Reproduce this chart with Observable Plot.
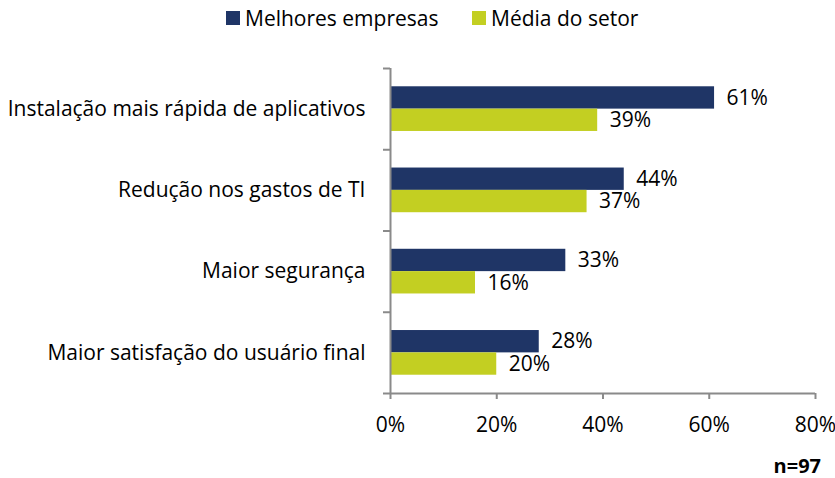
<!DOCTYPE html>
<html><head><meta charset="utf-8">
<script src="https://cdn.jsdelivr.net/npm/d3@7"></script>
<script src="https://cdn.jsdelivr.net/npm/@observablehq/plot@0.6"></script>
<style>
body{margin:0;background:#fff;font-family:"Open Sans",sans-serif;color:#000;position:relative;width:835px;height:478px;overflow:hidden;}
#legend{height:40px;position:relative;font-size:21px;}
.item{position:absolute;top:4px;display:flex;align-items:center;white-space:nowrap;}
.sw{width:14px;height:14px;margin-right:5px;display:inline-block;}
#chart svg{display:block;}
#caption{position:absolute;right:14px;top:456px;font-weight:bold;font-size:20px;line-height:20px;height:20px;}
</style></head><body>
<div id="legend"></div>
<div id="chart"></div>
<div id="caption">n=97</div>
<script>
const categories = ["Instalação mais rápida de aplicativos","Redução nos gastos de TI","Maior segurança","Maior satisfação do usuário final"];
const seriesNames = ["Melhores empresas","Média do setor"];
const melhores = [0.61,0.44,0.33,0.28];
const media = [0.39,0.37,0.16,0.20];
const xTicks = [0,0.2,0.4,0.6,0.8];
const colors = ["#1F3566","#C3CF22"];

const legend = document.getElementById("legend");
const legendX = [226,472];
seriesNames.forEach((s,i)=>{
  const d = document.createElement("div");
  d.className="item"; d.style.left = legendX[i]+"px";
  d.innerHTML = `<span class="sw" style="background:${colors[i]}"></span>${s}`;
  legend.appendChild(d);
});

const rows = [];
categories.forEach((c,i)=>{
  rows.push({cat:c, i, s:seriesNames[0], v:melhores[i], y1:i+0.225, y2:i+0.5});
  rows.push({cat:c, i, s:seriesNames[1], v:media[i], y1:i+0.5, y2:i+0.775});
});
const pct = d3.format(".0%");
const axisColor = "#8a8a8a";

const chart = Plot.plot({
  width:835, height:405,
  marginLeft:390, marginRight:20, marginTop:28, marginBottom:52,
  style:{fontFamily:"'Open Sans', sans-serif", fontSize:"21px", color:"#000", background:"#fff"},
  x:{domain:[0,0.8]},
  y:{domain:[0,4], reverse:true},
  color:{domain:seriesNames, range:colors},
  marks:[
    Plot.rect(rows,{x1:0, x2:"v", y1:"y1", y2:"y2", fill:"s"}),
    Plot.text(rows,{x:"v", y:d=>(d.y1+d.y2)/2, text:d=>pct(d.v), textAnchor:"start", dx:12, dy:0, fill:"#000", fontSize:21}),
    Plot.ruleX([0],{stroke:axisColor, strokeWidth:2}),
    Plot.ruleY([4],{stroke:axisColor, strokeWidth:2}),
    Plot.axisY({ticks:[0,1,2,3,4], tickFormat:()=>"", tickSize:7, stroke:axisColor, strokeWidth:2}),
    Plot.axisY({ticks:categories.map((c,i)=>i+0.5), tickFormat:(d)=>categories[Math.floor(d)], tickSize:0, tickPadding:25, fill:"#000", label:null}),
    Plot.axisX({ticks:xTicks, tickFormat:pct, tickSize:6, tickPadding:18, stroke:axisColor, strokeWidth:2, fill:"#000", label:null, fontSize:21})
  ]
});
document.getElementById("chart").appendChild(chart);
</script>
</body></html>
